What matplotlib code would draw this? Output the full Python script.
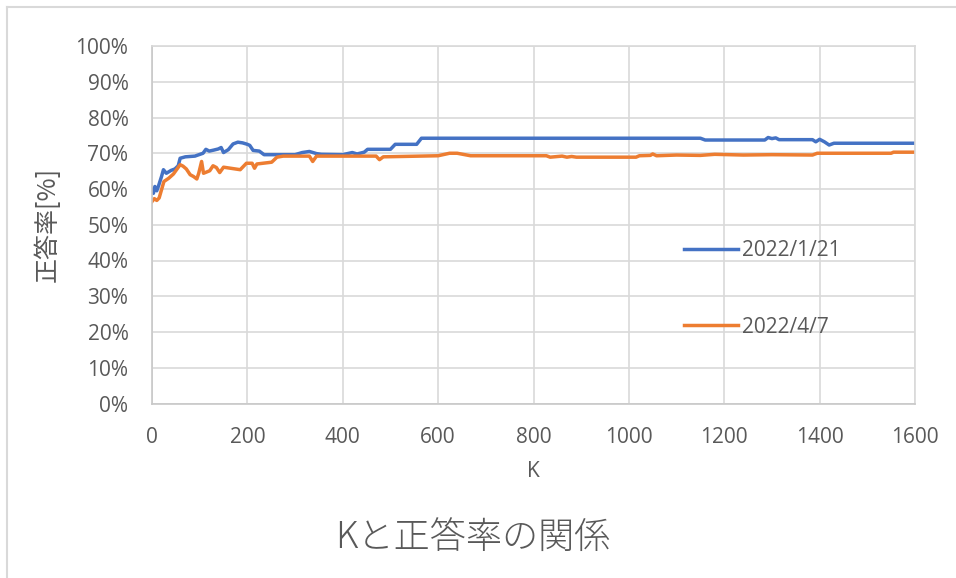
import matplotlib
matplotlib.use("Agg")
import matplotlib.pyplot as plt
from matplotlib.lines import Line2D
from matplotlib.ticker import PercentFormatter, MultipleLocator

plt.rcParams['font.family'] = ['Open Sans', 'Noto Sans CJK JP']

# accuracy (%) vs K for the two runs
k_0121 = [0, 3, 6, 10, 14, 20, 24, 30, 40, 48, 55, 59, 70, 90, 107, 113, 120, 130, 139,
          145, 150, 160, 170, 180, 190, 200, 205, 212, 225, 235, 260, 300, 315, 330, 345,
          355, 400, 410, 420, 430, 445, 452, 500, 510, 555, 565, 1150, 1160, 1285, 1292,
          1300, 1308, 1315, 1385, 1392, 1400, 1410, 1420, 1430, 1600]
acc_0121 = [59.8, 58.8, 60.7, 59.5, 61.0, 63.5, 65.4, 64.4, 65.2, 65.6, 66.5, 68.6, 69.0,
            69.2, 70.0, 71.1, 70.6, 70.9, 71.2, 71.6, 70.2, 71.0, 72.6, 73.1, 72.9, 72.5,
            72.2, 70.8, 70.6, 69.6, 69.6, 69.6, 70.2, 70.5, 69.9, 69.7, 69.6, 69.9, 70.2,
            69.8, 70.3, 71.1, 71.1, 72.5, 72.5, 74.2, 74.2, 73.7, 73.7, 74.4, 74.1, 74.3,
            73.8, 73.8, 73.2, 73.9, 73.2, 72.3, 72.8, 72.8]

k_0407 = [0, 5, 10, 15, 20, 25, 35, 45, 59, 65, 72, 80, 87, 94, 98, 104, 108, 121, 128,
          135, 142, 150, 170, 185, 198, 210, 215, 220, 245, 251, 262, 275, 330, 337, 345,
          470, 477, 485, 600, 624, 640, 668, 827, 835, 860, 870, 880, 890, 1015, 1022,
          1045, 1050, 1058, 1100, 1150, 1180, 1240, 1300, 1385, 1395, 1550, 1555, 1600]
acc_0407 = [56.5, 57.3, 56.8, 57.5, 59.8, 62.1, 63.0, 64.2, 66.8, 66.4, 65.6, 64.0, 63.5,
            62.8, 64.4, 67.7, 64.4, 65.1, 66.5, 66.0, 64.6, 66.1, 65.7, 65.4, 67.2, 67.2,
            65.8, 67.0, 67.4, 67.5, 68.9, 69.2, 69.2, 67.7, 69.2, 69.2, 68.2, 69.0, 69.3,
            70.0, 70.0, 69.3, 69.3, 68.9, 69.2, 68.9, 69.1, 68.9, 68.9, 69.3, 69.4, 69.8,
            69.3, 69.5, 69.4, 69.7, 69.5, 69.6, 69.5, 70.0, 70.0, 70.3, 70.3]

labels = ['2022/1/21', '2022/4/7']

text_color = '#595959'
grid_color = '#d9d9d9'

fig = plt.figure(figsize=(9.56, 5.78), dpi=100)
ax = fig.add_axes([152 / 956, 1 - 403.5 / 578, 763 / 956, 357.5 / 578])

ax.plot(k_0121, acc_0121, color='#4472C4', lw=2.5, label=labels[0], solid_joinstyle='round')
ax.plot(k_0407, acc_0407, color='#ED7D31', lw=2.5, label=labels[1], solid_joinstyle='round')

ax.set_xlim(0, 1600)
ax.set_ylim(0, 100)
ax.xaxis.set_major_locator(MultipleLocator(200))
ax.yaxis.set_major_locator(MultipleLocator(10))
ax.yaxis.set_major_formatter(PercentFormatter(xmax=100, decimals=0))
ax.grid(True, color=grid_color, lw=1.2)
ax.set_axisbelow(True)
for side in ax.spines:
    ax.spines[side].set_color(grid_color)
    ax.spines[side].set_linewidth(1.2)
ax.spines['bottom'].set_color('#c8c8c8')
ax.spines['left'].set_color('#c8c8c8')
ax.tick_params(length=0, labelsize=15, labelcolor=text_color)
ax.tick_params(axis='x', pad=17)
ax.tick_params(axis='y', pad=17)

ax.set_xlabel('K', fontsize=15, color=text_color, va='center')
ax.xaxis.set_label_coords(0.5, -0.19)
ax.set_ylabel('正答率[%]', fontsize=18, color=text_color, va='center',
              family=['Noto Sans CJK JP', 'Open Sans'])
ax.yaxis.set_label_coords(-0.1376, 0.5)

ax.legend(loc='center left', bbox_to_anchor=(684 / 956, 1 - 289 / 578),
          bbox_transform=fig.transFigure, frameon=False, fontsize=15,
          labelcolor=text_color, handlelength=2.6, handletextpad=0.2,
          labelspacing=2.65, borderpad=0, borderaxespad=0)

fig.text(0.495, 1 - 538 / 578, 'Kと正答率の関係', fontsize=26, color=text_color,
         ha='center', va='center', family=['Noto Sans CJK JP', 'Open Sans'],
         fontweight='light')

# chart area frame (top and left edges)
fig.add_artist(Line2D([7 / 956, 1], [1 - 7 / 578, 1 - 7 / 578],
                      transform=fig.transFigure, color=grid_color, lw=1.5))
fig.add_artist(Line2D([7 / 956, 7 / 956], [0, 1 - 7 / 578],
                      transform=fig.transFigure, color=grid_color, lw=1.5))

fig.savefig('out.png', dpi=100, facecolor='white')
